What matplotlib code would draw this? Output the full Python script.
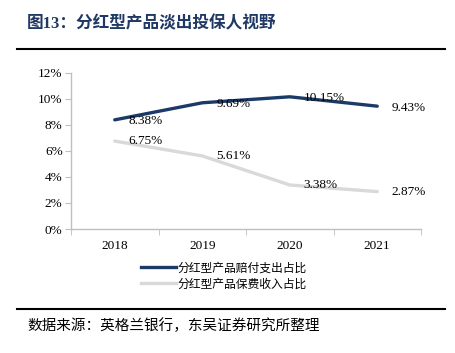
import matplotlib
matplotlib.use("Agg")
import matplotlib.pyplot as plt
from matplotlib.lines import Line2D

plt.rcParams['font.family'] = ['Liberation Serif', 'Noto Sans CJK SC']

years = ['2018', '2019', '2020', '2021']
payout_share = [8.38, 9.69, 10.15, 9.43]
premium_share = [6.75, 5.61, 3.38, 2.87]
series_names = ['分红型产品赔付支出占比', '分红型产品保费收入占比']
title = '图13：分红型产品淡出投保人视野'
source = '数据来源：英格兰银行，东吴证券研究所整理'
yticks = [0, 2, 4, 6, 8, 10, 12]

W, H = 456, 353
fig = plt.figure(figsize=(W / 100, H / 100), dpi=100)
ax = fig.add_axes([71 / W, 1 - 229 / H, 350 / W, (229 - 72.7) / H])

x = list(range(len(years)))
blue = '#1b3a68'
gray = '#d9d9d9'
ax.plot(x, payout_share, color=blue, lw=2.4, solid_capstyle='round', zorder=3)
ax.plot(x, premium_share, color=gray, lw=2.4, solid_capstyle='round', zorder=2)

for xi, v in zip(x, payout_share):
    ax.annotate(f'{v:.2f}%', (xi, v), xytext=(10, -1), textcoords='offset points',
                ha='left', va='center', fontsize=9.5, family='Liberation Serif', zorder=4)
for xi, v in zip(x, premium_share):
    ax.annotate(f'{v:.2f}%', (xi, v), xytext=(10, 0), textcoords='offset points',
                ha='left', va='center', fontsize=9.5, family='Liberation Serif', zorder=4)

ax.set_xlim(-0.5, len(years) - 0.5)
ax.set_ylim(0, 12)
ax.set_yticks(yticks)
ax.set_yticklabels([f'{t}%' for t in yticks], fontsize=9.5, family='Liberation Serif')
ax.set_xticks(x)
ax.set_xticklabels(years, fontsize=9.5, family='Liberation Serif')
ax.tick_params(axis='x', length=0, pad=8)
ax.set_xticks([i + 0.5 for i in range(-1, len(years))], minor=True)
ax.tick_params(axis='x', which='minor', length=4, color='#bfbfbf', direction='out')
ax.tick_params(axis='y', length=4, color='#bfbfbf', direction='out', pad=2)
for s in ['top', 'right']:
    ax.spines[s].set_visible(False)
for s in ['left', 'bottom']:
    ax.spines[s].set_color('#bfbfbf')
    ax.spines[s].set_linewidth(1)

handles = [Line2D([], [], color=blue, lw=2.4), Line2D([], [], color=gray, lw=2.4)]
fig.legend(handles, series_names, loc='upper left', bbox_to_anchor=(130 / W, 1 - 251 / H),
           frameon=False, handlelength=3.0, handletextpad=0.1, labelspacing=0.25,
           prop={'family': 'Noto Sans CJK SC', 'size': 8.5})

fig.text(27 / W, 1 - 24 / H, title, fontsize=12, fontweight='bold', color='#1f3864',
         va='center', ha='left', family=['Liberation Serif', 'Noto Sans CJK SC'])
fig.add_artist(Line2D([17 / W, 445 / W], [1 - 49 / H, 1 - 49 / H], color='black', lw=1.5))
fig.add_artist(Line2D([17 / W, 445 / W], [1 - 309 / H, 1 - 309 / H], color='black', lw=1.5))
fig.text(27 / W, 1 - 326 / H, source, fontsize=10.5, va='center', ha='left',
         family='Noto Sans CJK SC')

fig.savefig('out.png', dpi=100, facecolor='white')
